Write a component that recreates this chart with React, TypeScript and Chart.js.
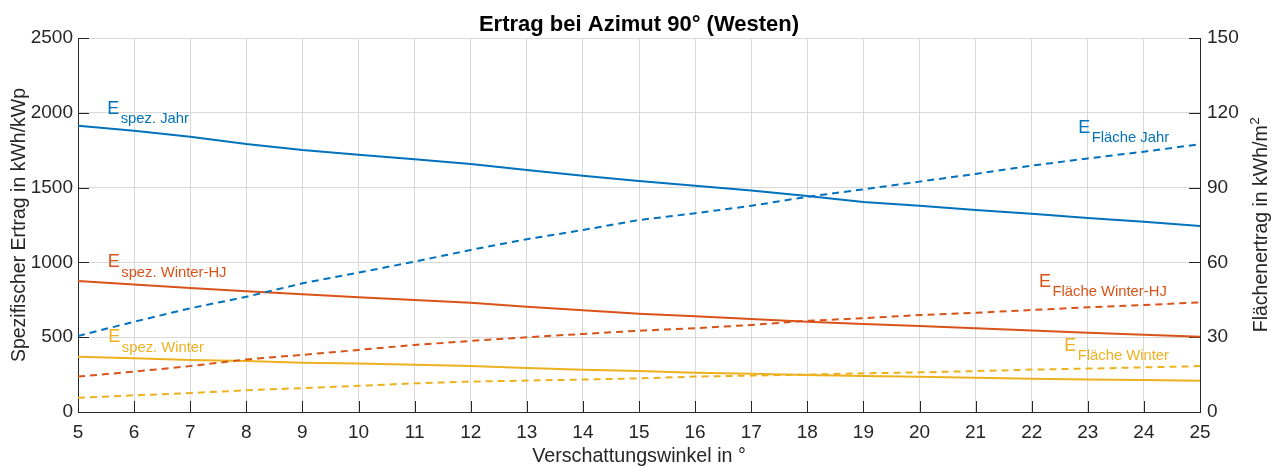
import React, { useEffect, useRef } from "react";
import { Chart, registerables } from "chart.js";

Chart.register(...registerables);

// ---- data ----
const angles = [5, 6, 7, 8, 9, 10, 11, 12, 13, 14, 15, 16, 17, 18, 19, 20, 21, 22, 23, 24, 25];
const eSpezJahr = [1913, 1880, 1840, 1791, 1751, 1720, 1689, 1658, 1618, 1580, 1544, 1513, 1480, 1444, 1404, 1379, 1350, 1326, 1297, 1272, 1243];
const eFlaecheJahr = [30.5, 36.2, 41.6, 46.2, 51.6, 55.9, 60.3, 65.0, 69.3, 73.0, 77.0, 79.7, 82.7, 86.3, 89.3, 92.4, 95.5, 98.8, 101.7, 104.4, 107.4];
const eSpezWinterHJ = [876, 853, 829, 807, 787, 767, 749, 731, 704, 680, 657, 640, 622, 604, 588, 575, 559, 544, 530, 517, 503];
const eFlaecheWinterHJ = [14.2, 16.2, 18.4, 21.1, 22.9, 24.9, 26.9, 28.5, 30.0, 31.3, 32.6, 33.6, 34.9, 36.6, 37.6, 38.9, 39.8, 40.9, 42.0, 42.9, 44.0];
const eSpezWinter = [370, 359, 348, 341, 330, 325, 316, 307, 294, 283, 274, 263, 256, 247, 241, 236, 229, 223, 218, 214, 209];
const eFlaecheWinter = [5.7, 6.7, 7.6, 8.7, 9.6, 10.5, 11.5, 12.2, 12.6, 13.0, 13.5, 14.2, 14.6, 15.0, 15.5, 15.9, 16.4, 17.0, 17.4, 17.9, 18.4];

const titleText = "Ertrag bei Azimut 90° (Westen)";
const xTitle = "Verschattungswinkel in °";
const yLeftTitle = "Spezifischer Ertrag in kWh/kWp";
const yRightTitleMain = "Flächenertrag in kWh/m";
const yRightTitleSup = "2";

// in-plot labels (E with subscript)
const labelSubs = ["spez. Jahr", "Fläche Jahr", "spez. Winter-HJ", "Fläche Winter-HJ", "spez. Winter", "Fläche Winter"];
const labelX = [5.52, 22.83, 5.53, 22.13, 5.54, 22.58];
const labelY = [1992, 112.0, 967, 50.3, 466, 24.6];
const labelAxis = ["y", "y1", "y", "y1", "y", "y1"];

const BLUE = "#0072BD";
const RED = "#D95319";
const YELLOW = "#EDB120";
const labelColors = [BLUE, BLUE, RED, RED, YELLOW, YELLOW];

const FONT = "'Liberation Sans', Arial, Helvetica, sans-serif";
const AXIS = "#262626";
const GRID = "#d9d9d9";

const pts = (vals: number[]) => angles.map((a, i) => ({ x: a, y: vals[i] }));

const decorPlugin = {
  id: "decor",
  beforeDatasetsDraw(chart: any) {
    const { ctx, chartArea: a, scales } = chart;
    const len = 11;
    ctx.save();
    ctx.strokeStyle = AXIS;
    ctx.lineWidth = 1;
    ctx.beginPath();
    for (const v of angles) {
      const px = Math.round(scales.x.getPixelForValue(v)) + 0.5;
      ctx.moveTo(px, a.bottom);
      ctx.lineTo(px, a.bottom - len);
    }
    scales.y.ticks.forEach((t: any) => {
      const py = Math.round(scales.y.getPixelForValue(t.value)) + 0.5;
      ctx.moveTo(a.left, py);
      ctx.lineTo(a.left + len, py);
    });
    scales.y1.ticks.forEach((t: any) => {
      const py = Math.round(scales.y1.getPixelForValue(t.value)) + 0.5;
      ctx.moveTo(a.right, py);
      ctx.lineTo(a.right - len, py);
    });
    ctx.stroke();
    ctx.restore();
  },
  afterDraw(chart: any) {
    const { ctx, chartArea: a, scales } = chart;
    ctx.save();
    // title
    ctx.fillStyle = "#000";
    ctx.font = `bold 22px ${FONT}`;
    ctx.textAlign = "center";
    ctx.textBaseline = "alphabetic";
    ctx.fillText(titleText, (a.left + a.right) / 2, 31);

    // x title
    ctx.fillStyle = AXIS;
    ctx.font = `19.7px ${FONT}`;
    ctx.fillText(xTitle, (a.left + a.right) / 2, 462);

    // left y title
    const cy = (a.top + a.bottom) / 2;
    ctx.save();
    ctx.translate(25, cy);
    ctx.rotate(-Math.PI / 2);
    ctx.font = `19.5px ${FONT}`;
    ctx.textAlign = "center";
    ctx.fillText(yLeftTitle, 0, 0);
    ctx.restore();

    // right y title with superscript
    ctx.save();
    ctx.translate(1267, cy);
    ctx.rotate(-Math.PI / 2);
    ctx.font = `19.5px ${FONT}`;
    const wMain = ctx.measureText(yRightTitleMain).width;
    ctx.font = `13.5px ${FONT}`;
    const wSup = ctx.measureText(yRightTitleSup).width;
    const start = -(wMain + wSup) / 2;
    ctx.textAlign = "left";
    ctx.font = `19.5px ${FONT}`;
    ctx.fillText(yRightTitleMain, start, 0);
    ctx.font = `13.5px ${FONT}`;
    ctx.fillText(yRightTitleSup, start + wMain + 0.5, -8);
    ctx.restore();

    // in-plot labels
    ctx.textAlign = "left";
    ctx.textBaseline = "alphabetic";
    labelSubs.forEach((sub, i) => {
      const px = scales.x.getPixelForValue(labelX[i]);
      const py = scales[labelAxis[i]].getPixelForValue(labelY[i]);
      ctx.fillStyle = labelColors[i];
      ctx.font = `18px ${FONT}`;
      ctx.fillText("E", px, py);
      const wE = ctx.measureText("E").width;
      ctx.font = `14.8px ${FONT}`;
      ctx.fillText(sub, px + wE + 1.5, py + 9.5);
    });
    ctx.restore();
  },
};

export default function App() {
  const ref = useRef<HTMLCanvasElement>(null);
  useEffect(() => {
    Chart.defaults.font.family = FONT;
    const common = { pointRadius: 0, borderWidth: 2, tension: 0, fill: false };
    const fmt = (v: any) => String(v);
    const chart = new Chart(ref.current as HTMLCanvasElement, {
      type: "line",
      data: {
        datasets: [
          { ...common, label: "E spez. Jahr", data: pts(eSpezJahr), borderColor: BLUE, yAxisID: "y" },
          { ...common, label: "E Fläche Jahr", data: pts(eFlaecheJahr), borderColor: BLUE, borderDash: [7, 5], yAxisID: "y1" },
          { ...common, label: "E spez. Winter-HJ", data: pts(eSpezWinterHJ), borderColor: RED, yAxisID: "y" },
          { ...common, label: "E Fläche Winter-HJ", data: pts(eFlaecheWinterHJ), borderColor: RED, borderDash: [7, 5], yAxisID: "y1" },
          { ...common, label: "E spez. Winter", data: pts(eSpezWinter), borderColor: YELLOW, yAxisID: "y" },
          { ...common, label: "E Fläche Winter", data: pts(eFlaecheWinter), borderColor: YELLOW, borderDash: [7, 5], yAxisID: "y1" },
        ],
      },
      options: {
        responsive: false,
        maintainAspectRatio: false,
        devicePixelRatio: 1,
        animation: false,
        layout: { padding: { top: 38, left: 0, right: 0, bottom: 0 } },
        plugins: { legend: { display: false }, tooltip: { enabled: false }, title: { display: false } },
        scales: {
          x: {
            type: "linear",
            min: 5,
            max: 25,
            ticks: { stepSize: 1, color: AXIS, font: { size: 19 }, padding: 9, maxRotation: 0, autoSkip: false, callback: fmt },
            grid: { color: GRID, drawTicks: false, lineWidth: 1 },
            border: { color: AXIS, width: 1 },
            afterFit: (s: any) => { s.height = 54; },
          },
          y: {
            position: "left",
            min: 0,
            max: 2500,
            ticks: { stepSize: 500, color: AXIS, font: { size: 19 }, padding: 5, callback: fmt },
            grid: { color: GRID, drawTicks: false, lineWidth: 1 },
            border: { color: AXIS, width: 1 },
            afterFit: (s: any) => { s.width = 78; },
          },
          y1: {
            position: "right",
            min: 0,
            max: 150,
            ticks: { stepSize: 30, color: AXIS, font: { size: 19 }, padding: 7, callback: fmt },
            grid: { color: "rgba(0,0,0,0)", drawOnChartArea: false, drawTicks: false },
            border: { color: AXIS, width: 1 },
            afterFit: (s: any) => { s.width = 82; },
          },
        },
      },
      plugins: [decorPlugin],
    } as any);
    return () => chart.destroy();
  }, []);
  return (
    <div style={{ position: "fixed", left: 0, top: 0, width: 1282, height: 466, background: "#fff" }}>
      <canvas ref={ref} width={1282} height={466} style={{ width: 1282, height: 466, display: "block" }} />
    </div>
  );
}
